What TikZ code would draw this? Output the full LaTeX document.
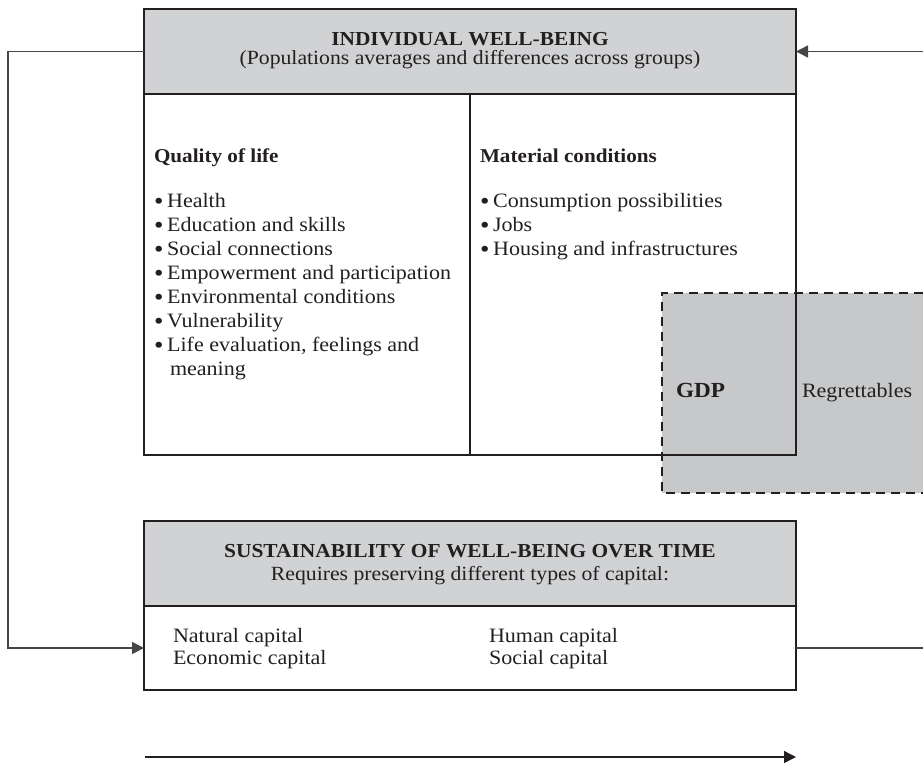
\documentclass[tikz,border=0pt]{standalone}
\usepackage{fontspec}
\setmainfont{Liberation Serif}[FakeStretch=1.08]
\usetikzlibrary{arrows.meta}
\definecolor{hdr}{RGB}{209,210,212}
\definecolor{gdpfill}{RGB}{199,200,202}
\definecolor{ink}{RGB}{35,31,32}
\definecolor{connc}{RGB}{70,70,70}
\newcommand{\mybul}{\raisebox{-2.6pt}{\fontsize{25}{24}\selectfont\textbullet}\hspace{0.18em}}
\begin{document}
\begin{tikzpicture}[x=1pt,y=-1pt,
  box/.style={draw=ink,line width=1.2pt,inner sep=0pt,outer sep=0pt,rectangle},
  hdrbox/.style={box,fill=hdr},
  txt/.style={anchor=base west,inner sep=0pt,outer sep=0pt,font=\fontsize{20.4}{24}\selectfont,text=ink},
  btxt/.style={txt,font=\fontsize{19.6}{24}\selectfont\bfseries},
  ctxt/.style={txt,anchor=base,font=\fontsize{20.1}{24}\selectfont},
  cbtxt/.style={txt,anchor=base,font=\fontsize{19.8}{24}\selectfont\bfseries},
  connline/.style={draw=connc,line width=1.5pt},
  tip/.style={-{Triangle[length=12pt,width=12pt]}},
  sepline/.style={draw=ink,line width=2.2pt},
]
\useasboundingbox (0,0) rectangle (923,764);

% GDP region (behind the top box outline)
\node[fill=gdpfill,inner sep=0pt,outer sep=0pt,minimum width=261pt,minimum height=200pt,anchor=north west] (gdp) at (662,293) {};
\draw[draw=ink,line width=1.4pt,dash pattern=on 9pt off 6pt] (gdp.north east) -- (gdp.north west) -- (gdp.south west) -- (gdp.south east);

% top box
\node[box,minimum width=326pt,minimum height=361pt,anchor=north west] (ql) at (144,94) {};
\node[box,minimum width=326pt,minimum height=361pt,anchor=north west] (mc) at (470,94) {};
\node[hdrbox,minimum width=652pt,minimum height=85pt,anchor=north west] (iwb) at (144,9) {};
\draw[sepline] (iwb.south west) -- (iwb.south east);

\node[cbtxt] (t1) at (470,45) {INDIVIDUAL WELL-BEING};
\node[ctxt] (t2) at (470,64) {(Populations averages and differences across groups)};

% quality of life
\node[btxt] (qh) at (154,162) {Quality of life};
\foreach \t [count=\i from 0] in {Health,Education and skills,Social connections,Empowerment and participation,Environmental conditions,Vulnerability,{Life evaluation, feelings and}}
  \node[txt] (q\i) at (154,{207+24*\i}) {\mybul\t};
\node[txt] (q7) at (170,375) {meaning};

% material conditions
\node[btxt] (mh) at (480,162) {Material conditions};
\foreach \t [count=\i from 0] in {Consumption possibilities,Jobs,Housing and infrastructures}
  \node[txt] (m\i) at (480,{207+24*\i}) {\mybul\t};

% GDP labels
\node[txt,font=\fontsize{21.5}{24}\selectfont\bfseries] (gdpl) at (676,397) {GDP};
\node[txt] (reg) at (802,397) {Regrettables};

% bottom box
\node[box,minimum width=652pt,minimum height=84pt,anchor=north west] (sb) at (144,606) {};
\node[hdrbox,minimum width=652pt,minimum height=85pt,anchor=north west] (sh) at (144,521) {};
\draw[sepline] (sh.south west) -- (sh.south east);
\node[cbtxt] (s1) at (470,557) {SUSTAINABILITY OF WELL-BEING OVER TIME};
\node[ctxt] (s2) at (470,580) {Requires preserving different types of capital:};
\node[txt] (c1) at (173,642) {Natural capital};
\node[txt] (c2) at (173,664) {Economic capital};
\node[txt] (c3) at (489,642) {Human capital};
\node[txt] (c4) at (489,664) {Social capital};

% connectors
\coordinate (lc1) at (8,51.5);
\coordinate (lc2) at (8,648);
\draw[connline,tip] (iwb.west) -- (lc1) -- (lc2) -- (sb.west);
\coordinate (rc1) at (923,51.5);
\draw[connline,tip] (rc1) -- (iwb.east);
\coordinate (rc2) at (923,648);
\draw[connline] (sb.east) -- (rc2);
\coordinate (ta) at (145,757);
\coordinate (tb) at (796,757);
\draw[draw=ink,line width=1.4pt,tip] (ta) -- (tb);
\end{tikzpicture}
\end{document}
